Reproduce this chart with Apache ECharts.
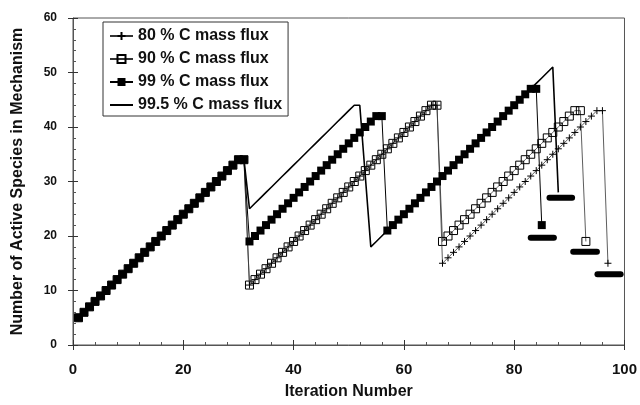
<!DOCTYPE html>
<html>
<head>
<meta charset="utf-8">
<script src="https://cdn.jsdelivr.net/npm/echarts@6/dist/echarts.min.js"></script>
<style>html,body{margin:0;padding:0;background:#fff}#c{width:640px;height:405px}</style>
</head>
<body>
<div id="c"></div>
<script>
// Values per iteration, starting at iteration 1
const flux80 = [5,6,7,8,9,10,11,12,13,14,15,16,17,18,19,20,21,22,23,24,25,26,27,28,29,30,31,32,33,34,34,
  11,12,13,14,15,16,17,18,19,20,21,22,23,24,25,26,27,28,29,30,31,32,33,34,35,36,37,38,39,40,41,42,43,44,44,
  15,16,17,18,19,20,21,22,23,24,25,26,27,28,29,30,31,32,33,34,35,36,37,38,39,40,41,42,43,43,
  15];
const flux90 = [5,6,7,8,9,10,11,12,13,14,15,16,17,18,19,20,21,22,23,24,25,26,27,28,29,30,31,32,33,34,34,
  11,12,13,14,15,16,17,18,19,20,21,22,23,24,25,26,27,28,29,30,31,32,33,34,35,36,37,38,39,40,41,42,43,44,44,
  19,20,21,22,23,24,25,26,27,28,29,30,31,32,33,34,35,36,37,38,39,40,41,42,43,43,
  19];
const flux99 = [5,6,7,8,9,10,11,12,13,14,15,16,17,18,19,20,21,22,23,24,25,26,27,28,29,30,31,32,33,34,34,
  19,20,21,22,23,24,25,26,27,28,29,30,31,32,33,34,35,36,37,38,39,40,41,42,42,
  21,22,23,24,25,26,27,28,29,30,31,32,33,34,35,36,37,38,39,40,41,42,43,44,45,46,47,47,
  22];
const flux995 = [5,6,7,8,9,10,11,12,13,14,15,16,17,18,19,20,21,22,23,24,25,26,27,28,29,30,31,32,33,34,34,
  25,26,27,28,29,30,31,32,33,34,35,36,37,38,39,40,41,42,43,44,44,
  31,
  18,19,20,21,22,23,24,25,26,27,28,29,30,31,32,33,34,35,36,37,38,39,40,41,42,43,44,45,46,47,48,49,50,51,
  28];
// Final-level horizontal bars
const barLevel = [19.7, 27, 17.1, 13];
const barStart = [83.0, 86.4, 90.7, 95.1];
const barEnd   = [87.2, 90.5, 95.0, 99.3];
const seriesNames = ['80 % C mass flux','90 % C mass flux','99 % C mass flux','99.5 % C mass flux'];
const xTicks = [0,20,40,60,80,100];
const yTicks = [0,10,20,30,40,50,60];

const FONT = '"Liberation Sans", Arial, sans-serif';
const pairs = arr => arr.map((v,i)=>[i+1, v]);

const chart = echarts.init(document.getElementById('c'), null, {renderer:'canvas'});
const plus = 'path://M0,5L10,5M5,0L5,10';
const lineIcon = 'path://M0,0L0.01,0L0,0.01Z M0,10L0.01,10L0,9.99Z M0,4.1L23,4.1L23,5.9L0,5.9Z';

const barSeries = barLevel.map((y,i)=>({
  type:'line', xAxisIndex:0, yAxisIndex:0, silent:true, showSymbol:false, symbol:'none',
  data:[[barStart[i], y],[barEnd[i], y]],
  lineStyle:{color:'#000', width:6, cap:'round'}, z:3
}));

chart.setOption({
  animation:false,
  backgroundColor:'#fff',
  grid:{left:73, top:18, right:14, bottom:59, show:true, borderColor:'#555', borderWidth:1},
  legend:{
    data:[seriesNames[0], seriesNames[1], seriesNames[2],
      {name:seriesNames[3], icon:lineIcon, itemStyle:{color:'#000'}}],
    orient:'vertical', left:103, top:22,
    backgroundColor:'#fff', borderColor:'#333', borderWidth:1,
    padding:[6,6,3,6], itemGap:7, itemWidth:23, itemHeight:10,
    textStyle:{fontFamily:FONT, fontSize:16, fontWeight:'bold', color:'#111'}
  },
  xAxis:[{
    type:'value', min:0, max:100, interval:20,
    name:'Iteration Number', nameLocation:'middle', nameGap:39,
    nameTextStyle:{fontFamily:FONT, fontSize:16, fontWeight:'bold', color:'#111'},
    axisLine:{show:true, lineStyle:{color:'#555', width:1}},
    axisTick:{show:true, inside:false, length:5, lineStyle:{color:'#333'}},
    axisLabel:{margin:17, fontFamily:FONT, fontSize:15, fontWeight:'bold', color:'#111',
      formatter:v=>xTicks.includes(v)?String(v):''},
    splitLine:{show:false}
  },{
    type:'value', min:0, max:100, interval:20, position:'bottom',
    axisLine:{show:false}, axisLabel:{show:false},
    axisTick:{show:true, inside:true, length:5, lineStyle:{color:'#333'}},
    minorTick:{show:true, splitNumber:5, length:3, lineStyle:{color:'#555'}},
    splitLine:{show:false}
  }],
  yAxis:[{
    type:'value', min:0, max:60, interval:10,
    name:'Number of Active Species in Mechanism', nameLocation:'middle', nameGap:47,
    nameTextStyle:{fontFamily:FONT, fontSize:16, fontWeight:'bold', color:'#111'},
    axisLine:{show:true, lineStyle:{color:'#555', width:1}},
    axisTick:{show:true, inside:false, length:5, lineStyle:{color:'#333'}},
    axisLabel:{margin:16, fontFamily:FONT, fontSize:12, fontWeight:'bold', color:'#111',
      formatter:v=>yTicks.includes(v)?String(v):''},
    splitLine:{show:false}
  },{
    type:'value', min:0, max:60, interval:10, position:'left',
    axisLine:{show:false}, axisLabel:{show:false},
    axisTick:{show:true, inside:true, length:5, lineStyle:{color:'#333'}},
    minorTick:{show:true, splitNumber:5, length:3, lineStyle:{color:'#555'}},
    splitLine:{show:false}
  }],
  series:[
    {name:seriesNames[3], type:'line', data:pairs(flux995), showSymbol:false, symbol:'none',
      lineStyle:{color:'#000', width:1.6}, itemStyle:{color:'#000'}, z:4},
    {name:seriesNames[1], type:'line', data:pairs(flux90), symbol:'rect', symbolSize:8,
      lineStyle:{color:'#333', width:0.8},
      itemStyle:{color:'rgba(255,255,255,0)', borderColor:'#000', borderWidth:1}, z:5},
    {name:seriesNames[0], type:'line', data:pairs(flux80), symbol:plus, symbolSize:7,
      lineStyle:{color:'#333', width:0.8},
      itemStyle:{color:'rgba(255,255,255,0)', borderColor:'#000', borderWidth:1}, z:6},
    {name:seriesNames[2], type:'line', data:pairs(flux99), symbol:'rect', symbolSize:8,
      lineStyle:{color:'#000', width:1},
      itemStyle:{color:'#000', borderColor:'#000', borderWidth:0}, z:7},
    ...barSeries
  ]
});
</script>
</body>
</html>
